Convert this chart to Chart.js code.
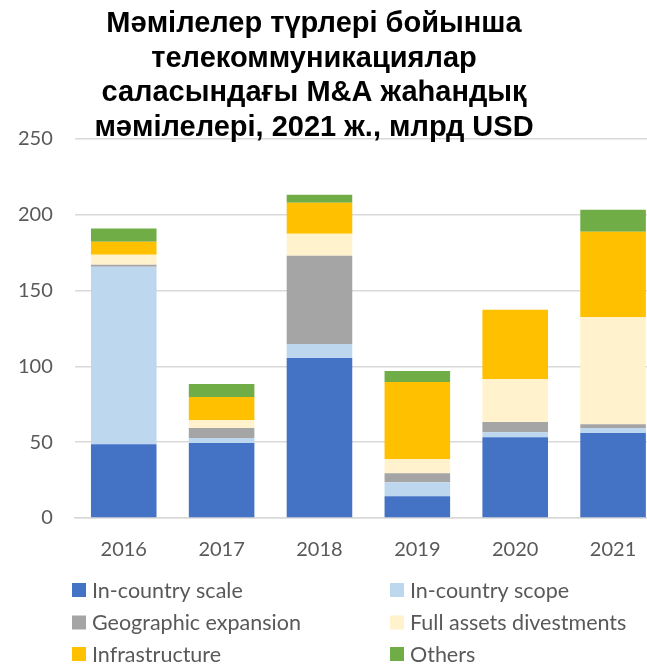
<!DOCTYPE html>
<html>
<head>
<meta charset="utf-8">
<script src="https://cdn.jsdelivr.net/npm/chart.js@4"></script>
<style>
  html, body { margin: 0; padding: 0; background: #fff; overflow: hidden; }
  #wrap { width: 662px; height: 665px; }
</style>
</head>
<body>
<div id="wrap"><canvas id="myChart" width="662" height="665"></canvas></div>
<script>
(() => {
  'use strict'

  // Data (billion USD)
  const years = ['2016', '2017', '2018', '2019', '2020', '2021']
  const inCountryScale = [48.7, 49.4, 105.5, 14.3, 53.3, 56.0]
  const inCountryScope = [117.0, 3.3, 9.3, 9.3, 3.3, 3.3]
  const geoExpansion = [1.4, 6.6, 58.2, 5.9, 6.7, 2.6]
  const fullDivestments = [6.6, 5.3, 14.5, 9.3, 28.4, 70.7]
  const infrastructure = [8.6, 15.2, 20.5, 50.9, 45.6, 56.2]
  const others = [8.6, 8.6, 5.2, 7.3, 0, 14.5]
  const yTicks = [0, 50, 100, 150, 200, 250]

  const titleLines = [
    'Мәмілелер түрлері бойынша',
    'телекоммуникациялар',
    'саласындағы M&A жаһандық',
    'мәмілелері, 2021 ж., млрд USD'
  ]

  const series = [
    ['In-country scale', inCountryScale, '#4472C4'],
    ['In-country scope', inCountryScope, '#BDD7EE'],
    ['Geographic expansion', geoExpansion, '#A5A5A5'],
    ['Full assets divestments', fullDivestments, '#FFF2CC'],
    ['Infrastructure', infrastructure, '#FFC000'],
    ['Others', others, '#70AD47']
  ]

  const textFont = 'Lato, "Open Sans", sans-serif'
  const textColor = '#595959'

  // title sits partly over the plot, so it is drawn by hand
  const overTitle = {
    id: 'overTitle',
    afterDraw(chart) {
      const c = chart.ctx
      c.save()
      c.font = 'bold 29px "Liberation Sans", Arial, sans-serif'
      c.fillStyle = '#000'
      c.textAlign = 'center'
      c.textBaseline = 'alphabetic'
      titleLines.forEach((t, i) => c.fillText(t, 314, 32 + i * 34.7))
      c.restore()
    }
  }

  // legend drawn in two columns like the original
  const gridLegend = {
    id: 'gridLegend',
    afterDraw(chart) {
      const c = chart.ctx
      const colX = [72, 390]
      const rowY = [590, 622.5, 654]
      c.save()
      c.font = '21.5px ' + textFont
      c.textBaseline = 'middle'
      chart.data.datasets.forEach((ds, i) => {
        const x = colX[i % 2]
        const y = rowY[Math.floor(i / 2)]
        c.fillStyle = ds.backgroundColor
        c.fillRect(x, y - 7, 14, 14)
        c.fillStyle = textColor
        c.fillText(ds.label, x + 20, y + 1)
      })
      c.restore()
    }
  }

  const ctx = document.getElementById('myChart')

  const myChart = new Chart(ctx, {
    type: 'bar',
    data: {
      labels: years,
      datasets: series.map(([label, data, color]) => ({
        label: label,
        data: data,
        backgroundColor: color,
        borderWidth: 0,
        categoryPercentage: 0.67,
        barPercentage: 1
      }))
    },
    options: {
      responsive: false,
      animation: false,
      layout: {
        padding: { left: -4, right: 0, top: 139, bottom: 83 }
      },
      scales: {
        x: {
          stacked: true,
          grid: { display: false, drawTicks: false },
          border: { color: '#d9d9d9', width: 1.5 },
          ticks: { color: textColor, font: { family: textFont, size: 20 }, padding: 20 }
        },
        y: {
          stacked: true,
          min: 0,
          max: 250,
          afterBuildTicks: axis => { axis.ticks = yTicks.map(v => ({ value: v })) },
          grid: { color: '#d9d9d9', lineWidth: 1.5, drawTicks: false },
          border: { display: false },
          ticks: { color: textColor, font: { family: textFont, size: 20 }, padding: 22 }
        }
      },
      plugins: {
        legend: { display: false },
        tooltip: { enabled: false },
        title: { display: false }
      }
    },
    plugins: [overTitle, gridLegend]
  })
})()
</script>
</body>
</html>
